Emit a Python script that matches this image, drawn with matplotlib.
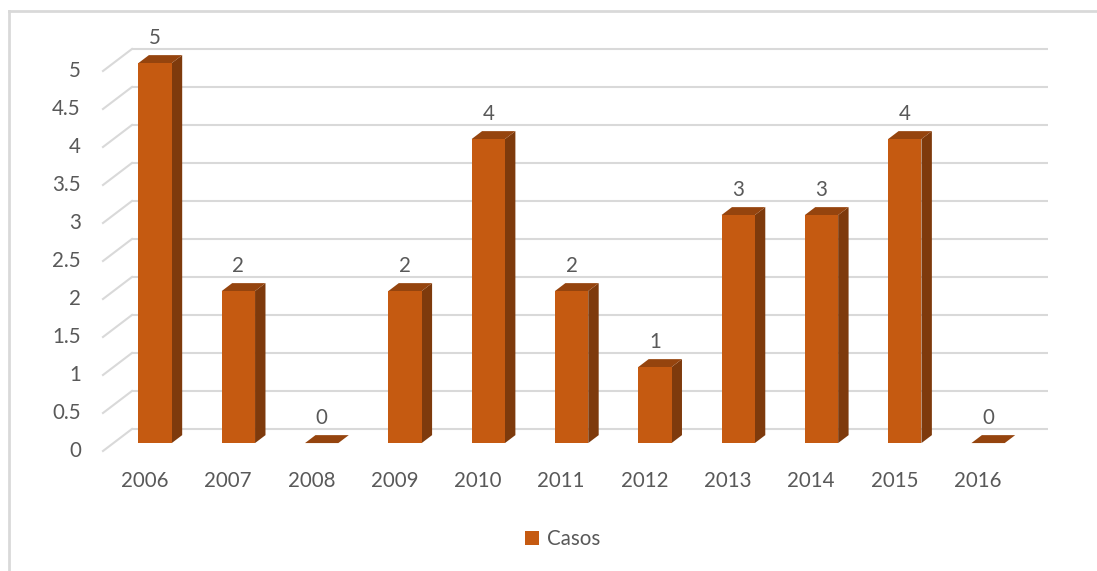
import matplotlib.pyplot as plt
from matplotlib.patches import Polygon, Patch
from matplotlib.lines import Line2D
import numpy as np

plt.rcParams['font.family'] = ['Lato', 'DejaVu Sans']

# datos
anios = ['2006', '2007', '2008', '2009', '2010', '2011', '2012', '2013', '2014', '2015', '2016']
casos = [5, 2, 0, 2, 4, 2, 1, 3, 3, 4, 0]
ticks_y = np.arange(0, 5.01, 0.5)

# colores
c_frente = '#C55A11'
c_lado = '#7E3A0C'
c_tapa = '#95440E'
c_grid = '#D9D9D9'
c_texto = '#595959'
fs = 14.8

# profundidad del efecto 3D (en unidades de datos)
prof_x = 0.348
prof_y = 0.29
t0, t1 = 0.36, 0.72      # posición de la barra dentro de la profundidad
ancho = 0.4

fig = plt.figure(figsize=(10.97, 5.71), dpi=100)
ax = fig.add_axes([0, 0, 1, 1])
ax.set_xlim(-103 / 83.3 - 0.5, (1097 - 103) / 83.3 - 0.5)
ax.set_ylim((451 - 571) / 76, 451 / 76)
ax.axis('off')

n = len(anios)

# pared del fondo y lateral
for v in ticks_y:
    ax.plot([-0.5 + prof_x, n - 0.5 + prof_x], [v + prof_y, v + prof_y],
            color=c_grid, lw=1.5, zorder=1, solid_capstyle='butt')
    ax.plot([-0.5, -0.5 + prof_x], [v, v + prof_y], color=c_grid, lw=1.5, zorder=1)
    ax.annotate(f'{v:g}', (-0.5, v), xytext=(-16, 0), textcoords='offset points',
                ha='right', va='center', fontsize=fs, color=c_texto)

def desplazar(x, y, t):
    return (x + prof_x * t, y + prof_y * t)

for i, v in enumerate(casos):
    x0, x1 = i - ancho / 2, i + ancho / 2
    # cara superior
    tapa = [desplazar(x0, v, t0), desplazar(x1, v, t0),
            desplazar(x1, v, t1), desplazar(x0, v, t1)]
    if v > 0:
        frente = [desplazar(x0, 0, t0), desplazar(x1, 0, t0),
                  desplazar(x1, v, t0), desplazar(x0, v, t0)]
        lado = [desplazar(x1, 0, t0), desplazar(x1, 0, t1),
                desplazar(x1, v, t1), desplazar(x1, v, t0)]
        ax.add_patch(Polygon(lado, closed=True, fc=c_lado, ec='none', zorder=3))
        ax.add_patch(Polygon(frente, closed=True, fc=c_frente, ec='none', zorder=4))
    ax.add_patch(Polygon(tapa, closed=True, fc=c_tapa, ec='none', zorder=3))
    cx, cy = desplazar(i, v, t0)
    ax.annotate(str(v), (cx, cy), xytext=(0, 18), textcoords='offset points',
                ha='center', va='center', fontsize=fs, color=c_texto)
    ax.annotate(anios[i], (i, 0), xytext=(0, -21.5), textcoords='offset points',
                ha='center', va='center', fontsize=fs, color=c_texto)

ax.legend(handles=[Patch(fc=c_frente, ec='none', label='Casos')],
          loc='center', bbox_to_anchor=(0.513, 0.056), frameon=False,
          fontsize=fs, handlelength=0.65, handleheight=0.65, handletextpad=0.4,
          labelcolor=c_texto)

# borde del área del gráfico
fig.add_artist(Line2D([9 / 1097, 1], [1 - 11 / 571, 1 - 11 / 571],
                      transform=fig.transFigure, color=c_grid, lw=2))
fig.add_artist(Line2D([9 / 1097, 9 / 1097], [0, 1 - 11 / 571],
                      transform=fig.transFigure, color=c_grid, lw=2))

fig.savefig('out.png', dpi=100)
